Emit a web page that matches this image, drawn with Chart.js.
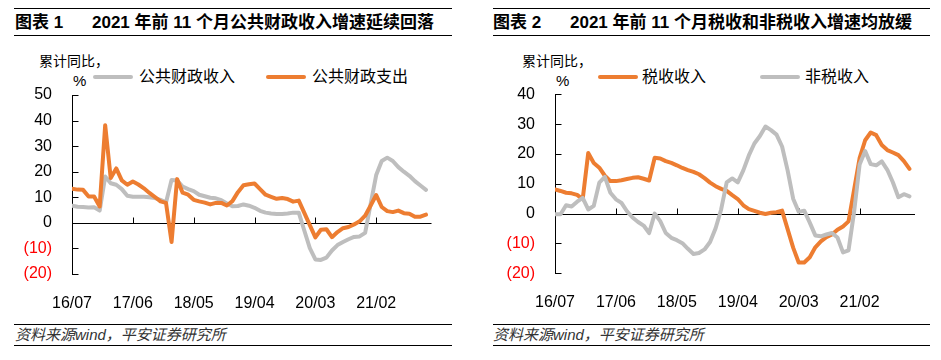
<!DOCTYPE html>
<html>
<head>
<meta charset="utf-8">
<script src="https://cdn.jsdelivr.net/npm/chart.js@4.4.0/dist/chart.umd.min.js"></script>
<style>
body{margin:0;width:941px;height:360px;background:#fff;position:relative;overflow:hidden;font-family:"Liberation Sans",Arial,"Noto Sans CJK SC",sans-serif;color:#000}
.t{position:absolute;white-space:nowrap}
.head{position:absolute;top:8px;height:26px;border-top:1px solid #000;border-bottom:1px solid #000;font-weight:bold;font-size:17px;line-height:27px}
.foot{position:absolute;top:324px;height:20px;border-top:1px solid #000;border-bottom:1px solid #000;font-style:italic;font-size:15px;line-height:20px;color:#333}
.sw{position:absolute;height:4px;width:40px;border-radius:2px}
.lg{font-size:16px;line-height:16px}
.unit{font-size:14px;line-height:14px}
canvas{position:absolute}
</style>
</head>
<body>

<div class="head" style="left:14px;width:438px">
  <span class="t" style="left:1px">图表 1</span>
  <span class="t" style="left:78px">2021 年前 11 个月公共财政收入增速延续回落</span>
</div>
<div class="head" style="left:493px;width:437px">
  <span class="t" style="left:0px">图表 2</span>
  <span class="t" style="left:77px">2021 年前 11 个月税收和非税收入增速均放缓</span>
</div>

<div class="t unit" style="left:39px;top:54px">累计同比，</div>
<div class="t" style="left:73px;top:73px;font-size:15px;line-height:15px">%</div>
<div class="sw" style="left:93px;top:75px;background:#BEBEBE"></div>
<div class="t lg" style="left:139px;top:69px">公共财政收入</div>
<div class="sw" style="left:266px;top:75px;background:#ED7D31"></div>
<div class="t lg" style="left:312px;top:69px">公共财政支出</div>

<div class="t unit" style="left:522px;top:54px">累计同比，</div>
<div class="t" style="left:556px;top:73px;font-size:15px;line-height:15px">%</div>
<div class="sw" style="left:598px;top:75px;background:#ED7D31"></div>
<div class="t lg" style="left:642px;top:69px">税收收入</div>
<div class="sw" style="left:760px;top:75px;background:#BEBEBE"></div>
<div class="t lg" style="left:805px;top:69px">非税收入</div>

<canvas id="c1" width="470" height="280" style="left:0;top:40px"></canvas>
<canvas id="c2" width="471" height="280" style="left:470px;top:40px"></canvas>

<div class="foot" style="left:14px;width:438px"><span class="t" style="left:1px">资料来源wind，平安证券研究所</span></div>
<div class="foot" style="left:493px;width:437px"><span class="t" style="left:0px">资料来源wind，平安证券研究所</span></div>

<script>
const months = [
  '16/07','16/08','16/09','16/10','16/11','16/12',
  '17/01','17/02','17/03','17/04','17/05','17/06','17/07','17/08','17/09','17/10','17/11','17/12',
  '18/01','18/02','18/03','18/04','18/05','18/06','18/07','18/08','18/09','18/10','18/11','18/12',
  '19/01','19/02','19/03','19/04','19/05','19/06','19/07','19/08','19/09','19/10','19/11','19/12',
  '20/01','20/02','20/03','20/04','20/05','20/06','20/07','20/08','20/09','20/10','20/11','20/12',
  '21/01','21/02','21/03','21/04','21/05','21/06','21/07','21/08','21/09','21/10','21/11'
];

// 图表1
const revenue = [
  6.7, 6.3, 6.2, 6.0, 6.1, 4.8,
  18.1, 15.5, 14.9, 13.2, 10.6, 10.2, 10.2, 10.2, 10.0, 9.7, 9.0, 8.0,
  16.8, 16.6, 14.2, 13.2, 12.4, 11.0, 10.4, 9.8, 9.6, 8.9, 7.6, 6.5,
  6.6, 7.2, 6.7, 5.9, 4.7, 4.0, 3.7, 3.5, 3.5, 3.7, 4.0, 4.0,
  -3.0, -9.9, -14.3, -14.5, -13.6, -10.8, -8.7, -7.5, -6.4, -5.5, -5.3, -3.9,
  7.4, 18.7, 24.2, 25.5, 24.2, 21.8, 20.0, 18.4, 16.3, 14.6, 12.9
];
const expenditure = [
  13.3, 13.0, 12.9, 10.3, 10.3, 6.4,
  38.2, 17.5, 21.3, 16.6, 14.9, 16.2, 15.0, 13.5, 11.7, 10.1, 8.4, 7.8,
  -7.5, 17.1, 11.8, 11.0, 9.0, 8.4, 7.9, 7.2, 7.8, 7.8, 6.8, 8.5,
  12.0, 14.7, 15.1, 15.4, 13.2, 11.0, 10.2, 9.4, 9.7, 9.3, 8.3, 8.7,
  3.9, -0.9, -5.7, -2.7, -2.5, -5.6, -3.6, -2.1, -1.6, -0.6, 0.6, 2.8,
  6.8, 10.9, 6.2, 4.6, 4.2, 4.8, 3.8, 3.6, 2.4, 2.4, 3.2
];

// 图表2
const taxRevenue = [
  8.1, 7.6, 7.0, 6.8, 6.3, 4.8,
  20.3, 17.0, 15.4, 12.7, 10.9, 10.9, 11.2, 11.6, 12.0, 12.2, 11.7, 11.1,
  18.7, 18.5, 17.6, 17.0, 16.2, 15.3, 14.6, 14.0, 13.2, 11.9, 10.4, 9.2,
  8.3, 7.6, 6.2, 4.9, 2.8, 1.5, 0.9, 0.3, -0.1, 0.3, 0.5, 1.0,
  -5.2, -11.4, -16.4, -16.4, -14.6, -11.3, -9.3, -7.9, -7.0, -5.4, -4.3, -2.6,
  8.0, 18.6, 24.6, 27.2, 26.3, 23.0, 21.3, 20.5, 19.6, 17.6, 15.0
];
const nonTaxRevenue = [
  -0.2, -0.2, 2.8, 2.4, 4.0, 5.3,
  1.4, 2.6, 10.4, 12.3, 7.0, 4.8, 3.6, 0.8, -1.3, -2.8, -4.0, -6.5,
  0.0, -2.5, -6.5, -8.1, -8.9, -9.9, -11.8, -13.5, -13.2, -12.0, -9.5, -4.9,
  1.4, 10.5, 11.8, 10.5, 14.5, 19.5, 23.5, 26.0, 29.2, 28.0, 26.5, 22.5,
  14.5, 5.0, 0.6, 1.0, -3.0, -7.3, -7.6, -7.0, -6.5, -8.0, -13.0, -12.3,
  0.5, 16.5, 21.0, 16.6, 16.2, 17.5, 14.7, 10.5, 5.5, 6.5, 5.8
];

const ORANGE = '#ED7D31';
const GREY = '#BEBEBE';

const points = arr => arr.map((v, i) => ({x: i, y: v}));

// 坐标轴：零线+向内刻度
const axesPlugin = {
  id: 'axesLines',
  beforeDatasetsDraw(chart) {
    const {ctx, chartArea, scales: {x, y}} = chart;
    ctx.save();
    ctx.strokeStyle = '#000';
    ctx.lineWidth = 1;
    ctx.beginPath();
    const y0 = Math.round(y.getPixelForValue(0)) + 0.5;
    ctx.moveTo(chartArea.left, y0);
    ctx.lineTo(chartArea.right, y0);
    x.ticks.forEach(t => {
      if (t.value <= 0) return;
      const px = Math.round(x.getPixelForValue(t.value)) + 0.5;
      ctx.moveTo(px, y0);
      ctx.lineTo(px, y0 - 6);
    });
    const lx = Math.round(chartArea.left) + 0.5;
    ctx.moveTo(lx, Math.round(chartArea.top));
    ctx.lineTo(lx, Math.round(chartArea.bottom) + 1);
    y.ticks.forEach(t => {
      const py = Math.round(y.getPixelForValue(t.value)) + 0.5;
      ctx.moveTo(lx, py);
      ctx.lineTo(lx + 6, py);
    });
    ctx.stroke();
    ctx.restore();
  }
};

function lineSet(label, data, color, order) {
  return {
    label: label,
    data: points(data),
    borderColor: color,
    backgroundColor: color,
    borderWidth: 4,
    pointRadius: 0,
    tension: 0,
    borderJoinStyle: 'round',
    borderCapStyle: 'round',
    order: order
  };
}

function makeChart(id, datasets, yMin, yMax, yWidth, xHeight, padding) {
  return new Chart(document.getElementById(id), {
    type: 'line',
    data: {datasets: datasets},
    options: {
      responsive: false,
      animation: false,
      layout: {padding: padding},
      plugins: {legend: {display: false}, tooltip: {enabled: false}},
      scales: {
        x: {
          type: 'linear',
          min: 0,
          max: 65,
          grid: {display: false},
          border: {display: false},
          afterFit: s => { s.height = xHeight; },
          ticks: {
            stepSize: 11,
            includeBounds: false,
            maxRotation: 0,
            autoSkip: false,
            padding: 12,
            color: '#000',
            font: {family: '"Liberation Sans", Arial', size: 16},
            callback: v => months[v] || ''
          }
        },
        y: {
          min: yMin,
          max: yMax,
          grid: {display: false},
          border: {display: false},
          afterFit: s => { s.width = yWidth; },
          ticks: {
            stepSize: 10,
            padding: 12,
            font: {family: '"Liberation Sans", Arial', size: 16},
            color: c => c.tick.value < 0 ? '#FF0000' : '#000',
            callback: v => v < 0 ? '(' + (-v) + ')' : String(v)
          }
        }
      }
    },
    plugins: [axesPlugin]
  });
}

makeChart('c1', [
  lineSet('公共财政收入', revenue, GREY, 1),
  lineSet('公共财政支出', expenditure, ORANGE, 0)
], -20, 50, 72, 46, {top: 55, right: 38.5, left: 0, bottom: 0});

makeChart('c2', [
  lineSet('税收收入', taxRevenue, ORANGE, 1),
  lineSet('非税收入', nonTaxRevenue, GREY, 0)
], -20, 40, 85, 46.7, {top: 54.3, right: 26, left: 0, bottom: 0});
</script>
</body>
</html>
